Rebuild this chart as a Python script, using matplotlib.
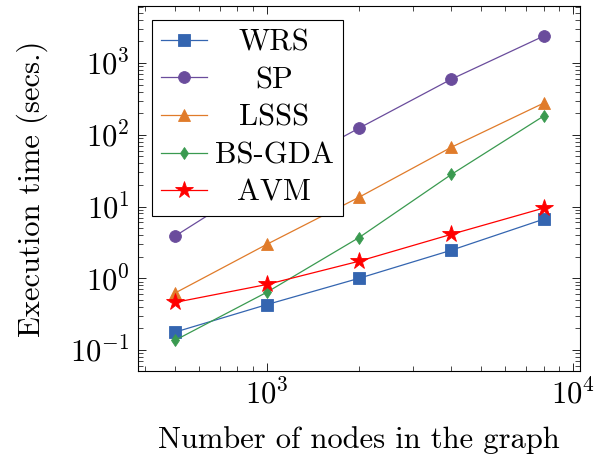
import numpy as np
import matplotlib
matplotlib.use('Agg')
import matplotlib.pyplot as plt

# data
nodes = [500, 1000, 2000, 4000, 8000]
wrs = [0.177, 0.43, 1.0, 2.46, 6.65]
sp = [3.85, 25.0, 124, 596, 2370]
lsss = [0.62, 2.98, 13.5, 67, 276]
bsgda = [0.136, 0.64, 3.7, 28, 182]
avm = [0.46, 0.82, 1.73, 4.1, 9.5]

labels = ['WRS', 'SP', 'LSSS', 'BS-GDA', 'AVM']
colors = ['#3465b0', '#6a4c9c', '#e07b2a', '#3a9a50', '#ff0000']
markers = ['s', 'o', '^', 'd', '*']
msizes = [8, 8.5, 8, 6.5, 13]

FS = 22
plt.rcParams['font.family'] = 'cmr10'
plt.rcParams['mathtext.fontset'] = 'cm'
plt.rcParams['axes.formatter.use_mathtext'] = True
plt.rcParams['font.size'] = FS

fig = plt.figure(figsize=(6.05, 4.62), dpi=100)
ax = fig.add_axes([0.228, 0.197, 0.731, 0.790])

for ys, lab, c, m, ms in zip([wrs, sp, lsss, bsgda, avm], labels, colors, markers, msizes):
    ax.plot(nodes, ys, color=c, lw=0.9, marker=m, markersize=ms,
            markeredgecolor=c, markeredgewidth=0.6, label=lab)

ax.set_xscale('log')
ax.set_yscale('log')
ax.set_xlim(379, 10540)
ax.set_ylim(0.051, 6240)
ax.set_xticks([1000, 10000])
ax.set_yticks([0.1, 1, 10, 100, 1000])

ax.tick_params(which='both', direction='in', top=True, right=True, labelsize=FS)
ax.tick_params(which='major', length=6, width=0.6, pad=6)
ax.tick_params(which='minor', length=3.5, width=0.5)
for s in ax.spines.values():
    s.set_linewidth(0.8)

ax.set_xlabel('Number of nodes in the graph', fontsize=FS, labelpad=11)
ax.set_ylabel('Execution time (secs.)', fontsize=FS, labelpad=16)

leg = ax.legend(loc='upper left', fancybox=False, edgecolor='black', framealpha=1,
                fontsize=FS, handlelength=1.5, labelspacing=0.33,
                borderaxespad=0.46, handletextpad=0.25, borderpad=0.3)
leg.get_frame().set_linewidth(0.8)

# center the labels inside the legend, like pgfplots does
renderer = fig.canvas.get_renderer()
widths = [t.get_window_extent(renderer).width for t in leg.get_texts()]
wmax = max(widths)
for t, w in zip(leg.get_texts(), widths):
    t.set_x((wmax - w) / 2)

fig.savefig('out.png', dpi=100)
